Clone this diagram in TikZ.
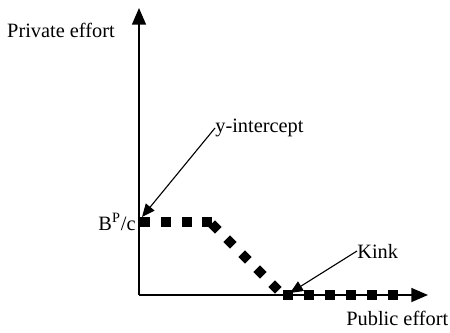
\documentclass[tikz,border=0pt]{standalone}
\usepackage{fontspec}
\setmainfont{Liberation Serif}
\usetikzlibrary{arrows.meta,positioning}

\begin{document}
\begin{tikzpicture}[
    x=0.019cm, y=-0.019cm,
    label/.style={font=\fontsize{11}{13}\selectfont, inner sep=0pt},
    axis/.style={line width=1pt, -{Triangle[length=9pt, width=7.5pt]}},
    pointer/.style={line width=0.6pt, -{Triangle[length=7pt, width=6pt]}},
    sq/.style={rectangle, fill=black, minimum size=5.6pt, inner sep=0pt},
    dia/.style={rectangle, fill=black, minimum size=5pt, inner sep=0pt, rotate=45}
]
\useasboundingbox (0,0) rectangle (450,332);

% Axes
\coordinate (origin) at (139,295);
\coordinate (ytop) at (139,8);
\coordinate (xend) at (428,295);
\draw[axis] (origin) -- (ytop);
\draw[axis] (origin) -- (xend);

% Axis labels
\node[label] (ylab) at (61,30) {Private effort};
\node[label, anchor=west] (xlab) at (346,318) {Public effort};
\node[label] (bpc) at (117,222) {B\textsuperscript{P}/c};

% Dotted reaction curve
\foreach \x in {145,166,187,207}
    \node[sq] at (\x,222) {};
\foreach \x/\y in {215/227, 230/242, 245/257, 260/272, 275/287}
    \node[dia] at (\x,\y) {};
\foreach \x in {288,309,330,351,372,393}
    \node[sq] at (\x,295) {};

% Annotations
\node[label, anchor=west] (yint) at (215,128) {y-intercept};
\coordinate (yhit) at (142,217);
\draw[pointer] (yint.west) -- (yhit);

\node[label, anchor=west] (kink) at (357,251) {Kink};
\coordinate (khit) at (290,293);
\draw[pointer] (kink.west) -- (khit);

\end{tikzpicture}
\end{document}
